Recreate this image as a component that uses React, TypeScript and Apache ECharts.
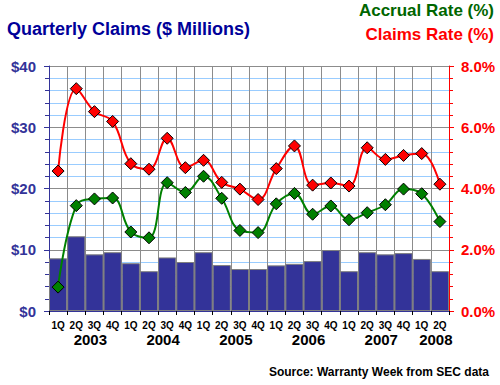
import React, { useEffect, useRef } from "react";
import * as echarts from "echarts";

const quarters = ["1Q","2Q","3Q","4Q","1Q","2Q","3Q","4Q","1Q","2Q","3Q","4Q","1Q","2Q","3Q","4Q","1Q","2Q","3Q","4Q","1Q","2Q"];
const years = ["2003", "2004", "2005", "2006", "2007", "2008"];
const quartersPerYear = [4, 4, 4, 4, 4, 2];
const claims = [8.6, 12.2, 9.25, 9.6, 7.8, 6.5, 8.75, 8.0, 9.6, 7.5, 6.85, 6.85, 7.45, 7.7, 8.15, 9.95, 6.5, 9.6, 9.25, 9.45, 8.5, 6.5];
const claimsRate = [4.57, 7.26, 6.51, 6.19, 4.81, 4.63, 5.64, 4.68, 4.92, 4.2, 3.98, 3.64, 4.65, 5.39, 4.11, 4.18, 4.08, 5.33, 4.95, 5.08, 5.14, 4.14];
const accrualRate = [0.78, 3.44, 3.66, 3.69, 2.58, 2.39, 4.19, 3.87, 4.4, 3.68, 2.63, 2.56, 3.5, 3.84, 3.16, 3.43, 2.98, 3.21, 3.47, 3.98, 3.83, 2.92];

const FONT = "Arial, 'Liberation Sans', sans-serif";

export default function App() {
  const ref = useRef<HTMLDivElement>(null);
  useEffect(() => {
    if (!ref.current) return;
    const chart = echarts.init(ref.current, undefined, { renderer: "svg" });
    const yearCenters: Record<number, string> = {};
    let start = 0;
    quartersPerYear.forEach((n, i) => {
      yearCenters[start + n / 2] = years[i];
      start += n;
    });
    chart.setOption({
      animation: false,
      backgroundColor: "#ffffff",
      textStyle: { fontFamily: FONT },
      grid: { left: 49, right: 51, top: 66, bottom: 74, containLabel: false },
      graphic: [
        {
          type: "text",
          left: 7,
          top: 20,
          style: { text: "Quarterly Claims ($ Millions)", fill: "#000099", font: `bold 18px ${FONT}` },
        },
        {
          type: "text",
          right: 6,
          top: 2,
          style: { text: "Accrual Rate (%)", fill: "#006600", font: `bold 17px ${FONT}`, align: "right" },
        },
        {
          type: "text",
          right: 6,
          top: 26,
          style: { text: "Claims Rate (%)", fill: "#ff0000", font: `bold 17px ${FONT}`, align: "right" },
        },
        {
          type: "text",
          right: 11,
          top: 366,
          style: { text: "Source: Warranty Week from SEC data", fill: "#000000", font: `bold 12px ${FONT}`, align: "right" },
        },
      ],
      xAxis: [
        {
          type: "category",
          data: quarters,
          position: "bottom",
          boundaryGap: true,
          axisLine: { show: true, lineStyle: { color: "#333399", width: 1 } },
          axisTick: { show: true, interval: 0, length: 4, lineStyle: { color: "#000000" } },
          axisLabel: { interval: 0, color: "#000000", fontSize: 10, fontWeight: "bold", margin: 9, fontFamily: FONT },
          splitLine: { show: true, interval: 0, lineStyle: { color: "#8c8c8c", width: 1 } },
        },
        {
          type: "value",
          min: 0,
          max: 22,
          interval: 1,
          position: "bottom",
          offset: 0,
          axisLine: { show: false },
          axisTick: { show: false },
          splitLine: { show: false },
          axisLabel: {
            show: true,
            margin: 21,
            color: "#000000",
            fontSize: 15,
            fontWeight: "bold",
            fontFamily: FONT,
            padding: [0, 0, 0, 10],
            showMinLabel: true,
            showMaxLabel: true,
            formatter: (v: number) => yearCenters[v] || "",
          },
        },
      ],
      yAxis: [
        {
          type: "value",
          position: "left",
          min: 0,
          max: 40,
          interval: 10,
          axisLine: { show: true, lineStyle: { color: "#333399", width: 1 } },
          axisTick: { show: true, length: 5, lineStyle: { color: "#333399" } },
          minorTick: { show: true, splitNumber: 5, length: 4, lineStyle: { color: "#333399" } },
          axisLabel: { color: "#333399", fontSize: 15, fontWeight: "bold", margin: 13, fontFamily: FONT, formatter: (v: number) => "$" + v },
          splitLine: { show: true, lineStyle: { color: "#8c8c8c", width: 1 } },
          minorSplitLine: { show: true, lineStyle: { color: "#99ccff", width: 1 } },
        },
        {
          type: "value",
          position: "right",
          min: 0,
          max: 8,
          interval: 2,
          axisLine: { show: true, lineStyle: { color: "#ff0000", width: 1 } },
          axisTick: { show: true, length: 5, lineStyle: { color: "#ff0000" } },
          minorTick: { show: true, splitNumber: 5, length: 4, lineStyle: { color: "#ff0000" } },
          axisLabel: { color: "#ff0000", fontSize: 15, fontWeight: "bold", margin: 12, fontFamily: FONT, formatter: (v: number) => v.toFixed(1) + "%" },
          splitLine: { show: false },
        },
      ],
      series: [
        {
          name: "Quarterly Claims",
          type: "bar",
          xAxisIndex: 0,
          yAxisIndex: 0,
          data: claims,
          barCategoryGap: "0%",
          itemStyle: { color: "#333399", borderColor: "#7f7f7f", borderWidth: 1 },
          z: 2,
        },
        {
          name: "Accrual Rate (%)",
          type: "line",
          xAxisIndex: 0,
          yAxisIndex: 1,
          data: accrualRate,
          smooth: 0.4,
          symbol: "diamond",
          symbolSize: 12,
          lineStyle: { color: "#008000", width: 2 },
          itemStyle: { color: "#008000", borderColor: "#000000", borderWidth: 1 },
          z: 3,
        },
        {
          name: "Claims Rate (%)",
          type: "line",
          xAxisIndex: 0,
          yAxisIndex: 1,
          data: claimsRate,
          smooth: 0.4,
          symbol: "diamond",
          symbolSize: 12,
          lineStyle: { color: "#ff0000", width: 2 },
          itemStyle: { color: "#ff0000", borderColor: "#000000", borderWidth: 1 },
          z: 4,
        },
      ],
    });
    return () => chart.dispose();
  }, []);
  return <div ref={ref} style={{ width: 500, height: 385, position: "absolute", left: 0, top: 0 }} />;
}
